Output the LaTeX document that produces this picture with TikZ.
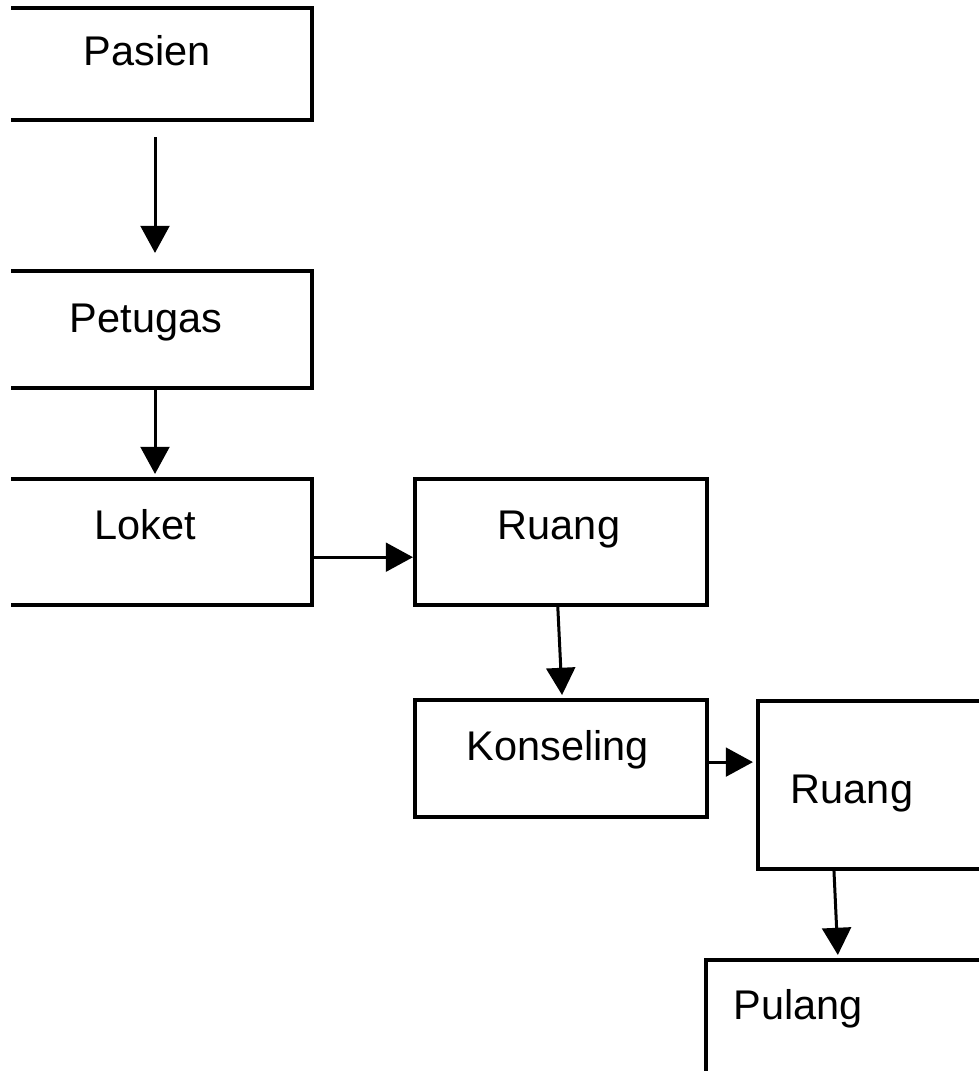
\documentclass[tikz,border=0pt]{standalone}
\usepackage{fontspec}
\setmainfont{Liberation Sans}
\usetikzlibrary{arrows.meta}

\begin{document}
\begin{tikzpicture}[%
        x = 0.025cm,
        y = -0.025cm,
        line cap = rect,
        box/.style = {draw, line width = 0.1cm, inner sep = 0pt},
        label text/.style = {anchor = base, inner sep = 0pt,
            font = \fontsize{29.5}{30}\selectfont},
        flow/.style = {line width = 0.075cm,
            -{Triangle[length = 0.68cm, width = 0.72cm]}}
    ]
        % Page size and the cut at the left edge.
        \useasboundingbox (0, 0) rectangle (979, 1071);
        \clip (11, 0) rectangle (979, 1071);

        % Boxes of the left column.
        \node[box, minimum width = 7.85cm, minimum height = 2.8cm] (Pasien) at (155, 64) {};
        \node[box, minimum width = 7.85cm, minimum height = 2.925cm] (Petugas) at (155, 329.5) {};
        \node[box, minimum width = 7.85cm, minimum height = 3.15cm] (Loket) at (155, 542) {};

        % Boxes of the middle column.
        \node[box, minimum width = 7.3cm, minimum height = 3.15cm] (Ruang) at (561, 542) {};
        \node[box, minimum width = 7.3cm, minimum height = 2.925cm] (Konseling) at (561, 758.5) {};

        % Boxes at the right, running off the page.
        \node[box, minimum width = 9.5cm, minimum height = 4.2cm] (Ruang_Dua) at (948, 785) {};
        \node[box, minimum width = 10cm, minimum height = 6cm] (Pulang) at (906, 1080) {};

        % Texts in the boxes.
        \node[label text] (Pasien_Text) at (147, 66) {Pasien};
        \node[label text] (Petugas_Text) at (146, 332) {Petugas};
        \node[label text] (Loket_Text) at (145, 539) {Loket};
        \node[label text] (Ruang_Text) at (559, 539) {Ruang};
        \node[label text] (Konseling_Text) at (558, 760) {Konseling};
        \node[label text] (Ruang_Dua_Text) at (852, 803) {Ruang};
        \node[label text] (Pulang_Text) at (798, 1019) {Pulang};

        % Arrows down the left column.
        \draw[flow, shorten < = 0.4cm, shorten > = 0.4cm] (Pasien.south) -- (Petugas.north);
        \draw[flow, shorten > = 0.075cm] (Petugas.south) -- (Loket.north);

        % Arrows across and down to the right.
        \draw[flow] ([yshift = -0.38cm]Loket.east) -- ([yshift = -0.38cm]Ruang.west);
        \draw[flow, shorten > = 0.075cm] ([xshift = -0.08cm]Ruang.south) -- ([xshift = 0.03cm]Konseling.north);
        \draw[flow, shorten > = 0.075cm] ([yshift = -0.09cm]Konseling.east) -- ([yshift = -0.09cm]Konseling.east -| Ruang_Dua.west);
        \draw[flow, shorten > = 0.075cm] ([xshift = 1.95cm]Ruang_Dua.south west) -- ([xshift = 3.35cm]Pulang.north west);
    \end{tikzpicture}
\end{document}
